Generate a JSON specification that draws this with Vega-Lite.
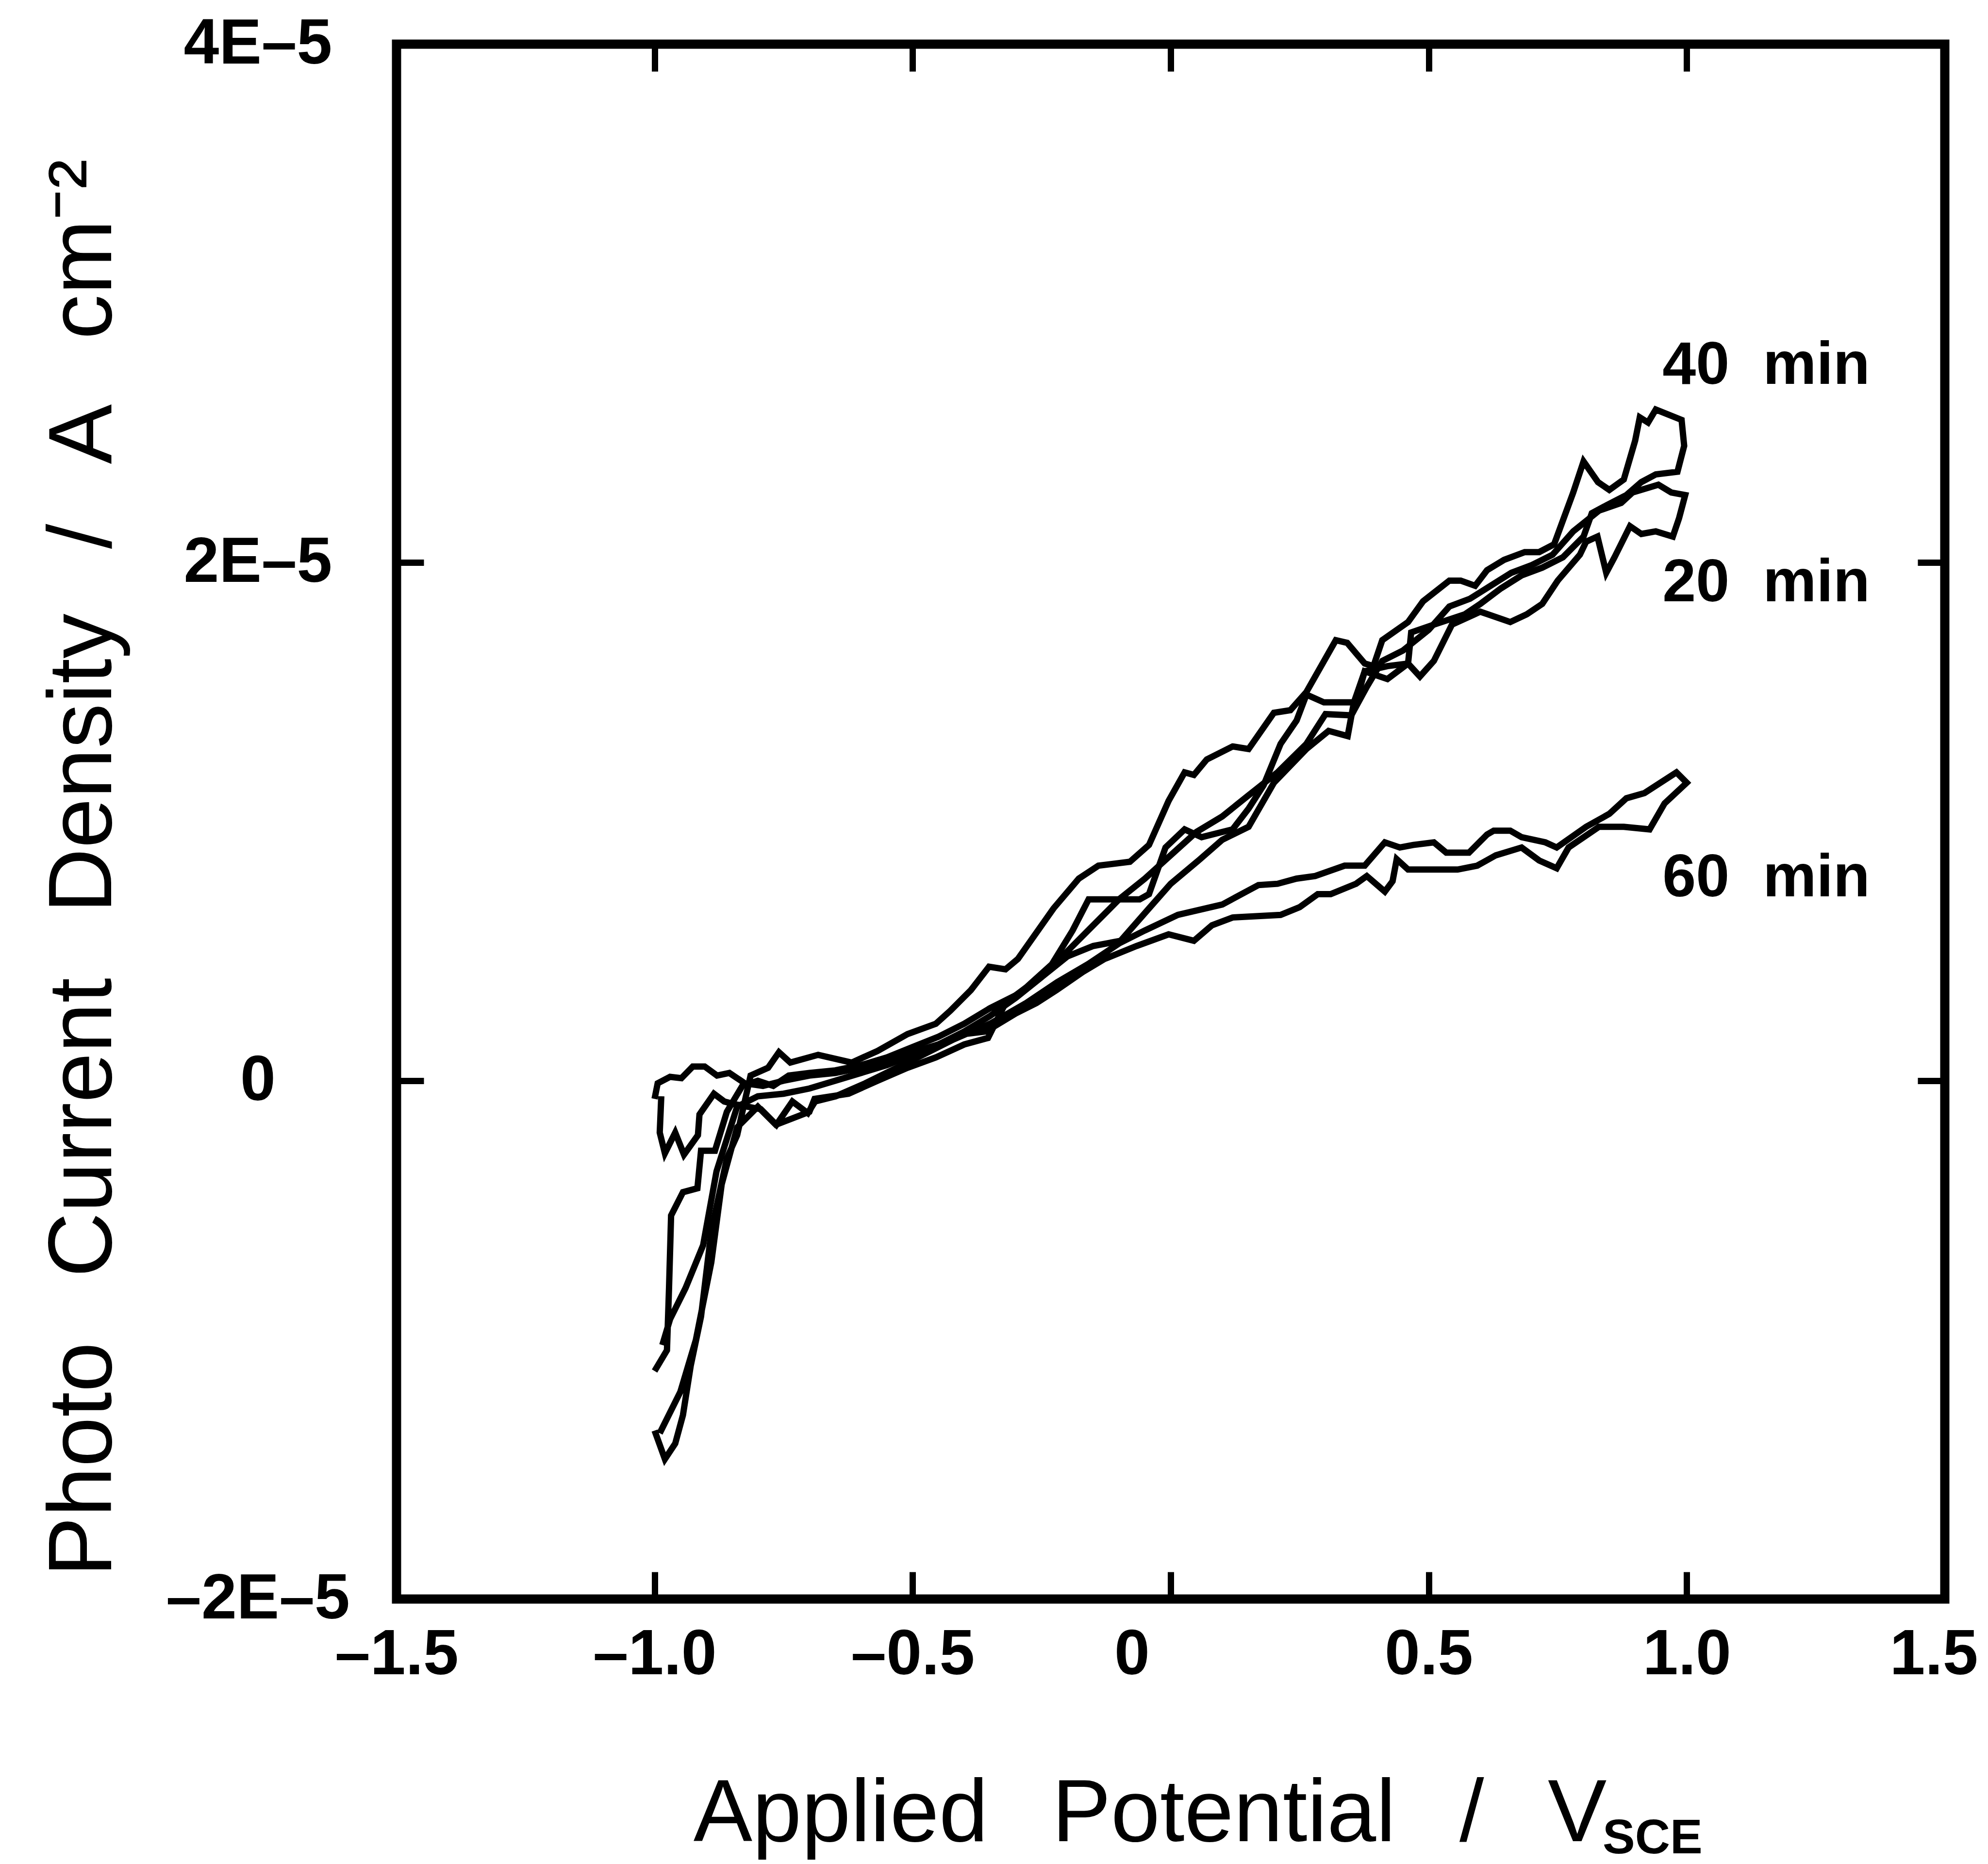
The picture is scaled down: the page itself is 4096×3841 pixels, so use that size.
{
  "$schema": "https://vega.github.io/schema/vega-lite/v6.json",
  "width": 3190,
  "height": 3204,
  "autosize": {"type": "none"},
  "padding": {"left": 817, "top": 91, "right": 89, "bottom": 546},
  "background": "white",
  "config": {
    "view": {"stroke": "black", "strokeWidth": 19},
    "axis": {"grid": false, "domain": false, "tickColor": "black", "tickWidth": 13, "labelColor": "black", "titleColor": "black", "labelFlush": false, "labelOverlap": false, "labelLimit": 0, "titleLimit": 0}
  },
  "resolve": {"axis": {"x": "independent", "y": "independent"}},
  "layer": [
    {
      "data": {"values": [
        {"t":60,"k":1,"E":-1.0,"J":-0.07},{"t":60,"k":2,"E":-0.994,"J":-0.01},{"t":60,"k":3,"E":-0.97,"J":0.015},{"t":60,"k":4,"E":-0.948,"J":0.01},{"t":60,"k":5,"E":-0.926,"J":0.055},{"t":60,"k":6,"E":-0.903,"J":0.055},{"t":60,"k":7,"E":-0.879,"J":0.02},{"t":60,"k":8,"E":-0.855,"J":0.03},{"t":60,"k":9,"E":-0.825,"J":-0.01},{"t":60,"k":10,"E":-0.79,"J":-0.02},
        {"t":60,"k":11,"E":-0.75,"J":0.0},{"t":60,"k":12,"E":-0.70,"J":0.02},{"t":60,"k":13,"E":-0.65,"J":0.03},{"t":60,"k":14,"E":-0.60,"J":0.05},{"t":60,"k":15,"E":-0.55,"J":0.08},{"t":60,"k":16,"E":-0.50,"J":0.11},{"t":60,"k":17,"E":-0.45,"J":0.14},{"t":60,"k":18,"E":-0.40,"J":0.18},{"t":60,"k":19,"E":-0.358,"J":0.19},{"t":60,"k":20,"E":-0.30,"J":0.26},
        {"t":60,"k":21,"E":-0.26,"J":0.30},{"t":60,"k":22,"E":-0.221,"J":0.35},{"t":60,"k":23,"E":-0.17,"J":0.42},{"t":60,"k":24,"E":-0.128,"J":0.47},{"t":60,"k":25,"E":-0.066,"J":0.52},{"t":60,"k":26,"E":-0.004,"J":0.565},{"t":60,"k":27,"E":0.045,"J":0.54},{"t":60,"k":28,"E":0.08,"J":0.60},{"t":60,"k":29,"E":0.12,"J":0.63},{"t":60,"k":30,"E":0.213,"J":0.64},
        {"t":60,"k":31,"E":0.25,"J":0.67},{"t":60,"k":32,"E":0.285,"J":0.72},{"t":60,"k":33,"E":0.31,"J":0.72},{"t":60,"k":34,"E":0.359,"J":0.76},{"t":60,"k":35,"E":0.38,"J":0.79},{"t":60,"k":36,"E":0.415,"J":0.73},{"t":60,"k":37,"E":0.43,"J":0.77},{"t":60,"k":38,"E":0.438,"J":0.855},{"t":60,"k":39,"E":0.46,"J":0.815},{"t":60,"k":40,"E":0.556,"J":0.815},
        {"t":60,"k":41,"E":0.594,"J":0.83},{"t":60,"k":42,"E":0.63,"J":0.87},{"t":60,"k":43,"E":0.68,"J":0.90},{"t":60,"k":44,"E":0.714,"J":0.85},{"t":60,"k":45,"E":0.748,"J":0.82},{"t":60,"k":46,"E":0.771,"J":0.90},{"t":60,"k":47,"E":0.83,"J":0.98},{"t":60,"k":48,"E":0.878,"J":0.98},{"t":60,"k":49,"E":0.928,"J":0.97},{"t":60,"k":50,"E":0.957,"J":1.07},
        {"t":60,"k":51,"E":1.0,"J":1.15},{"t":60,"k":52,"E":0.98,"J":1.19},{"t":60,"k":53,"E":0.918,"J":1.11},{"t":60,"k":54,"E":0.883,"J":1.09},{"t":60,"k":55,"E":0.85,"J":1.03},{"t":60,"k":56,"E":0.805,"J":0.98},{"t":60,"k":57,"E":0.748,"J":0.90},{"t":60,"k":58,"E":0.726,"J":0.92},{"t":60,"k":59,"E":0.68,"J":0.94},{"t":60,"k":60,"E":0.658,"J":0.965},
        {"t":60,"k":61,"E":0.626,"J":0.965},{"t":60,"k":62,"E":0.613,"J":0.95},{"t":60,"k":63,"E":0.578,"J":0.88},{"t":60,"k":64,"E":0.534,"J":0.88},{"t":60,"k":65,"E":0.51,"J":0.92},{"t":60,"k":66,"E":0.47,"J":0.91},{"t":60,"k":67,"E":0.444,"J":0.90},{"t":60,"k":68,"E":0.415,"J":0.92},{"t":60,"k":69,"E":0.376,"J":0.83},{"t":60,"k":70,"E":0.337,"J":0.83},
        {"t":60,"k":71,"E":0.28,"J":0.79},{"t":60,"k":72,"E":0.244,"J":0.78},{"t":60,"k":73,"E":0.207,"J":0.76},{"t":60,"k":74,"E":0.17,"J":0.755},{"t":60,"k":75,"E":0.10,"J":0.68},{"t":60,"k":76,"E":0.014,"J":0.64},{"t":60,"k":77,"E":-0.05,"J":0.58},{"t":60,"k":78,"E":-0.10,"J":0.53},{"t":60,"k":79,"E":-0.16,"J":0.45},{"t":60,"k":80,"E":-0.22,"J":0.38},
        {"t":60,"k":81,"E":-0.28,"J":0.30},{"t":60,"k":82,"E":-0.35,"J":0.22},{"t":60,"k":83,"E":-0.42,"J":0.16},{"t":60,"k":84,"E":-0.50,"J":0.08},{"t":60,"k":85,"E":-0.592,"J":-0.01},{"t":60,"k":86,"E":-0.649,"J":-0.06},{"t":60,"k":87,"E":-0.689,"J":-0.08},{"t":60,"k":88,"E":-0.703,"J":-0.125},{"t":60,"k":89,"E":-0.733,"J":-0.08},{"t":60,"k":90,"E":-0.764,"J":-0.17},
        {"t":60,"k":91,"E":-0.794,"J":-0.11},{"t":60,"k":92,"E":-0.846,"J":-0.09},{"t":60,"k":93,"E":-0.865,"J":-0.08},{"t":60,"k":94,"E":-0.885,"J":-0.05},{"t":60,"k":95,"E":-0.913,"J":-0.13},{"t":60,"k":96,"E":-0.916,"J":-0.21},{"t":60,"k":97,"E":-0.943,"J":-0.285},{"t":60,"k":98,"E":-0.96,"J":-0.20},{"t":60,"k":99,"E":-0.98,"J":-0.28},{"t":60,"k":100,"E":-0.99,"J":-0.20},
        {"t":60,"k":101,"E":-0.987,"J":-0.06},

        {"t":40,"k":1,"E":-1.0,"J":-1.35},{"t":40,"k":2,"E":-0.98,"J":-1.46},{"t":40,"k":3,"E":-0.96,"J":-1.40},{"t":40,"k":4,"E":-0.945,"J":-1.29},{"t":40,"k":5,"E":-0.93,"J":-1.10},{"t":40,"k":6,"E":-0.91,"J":-0.91},{"t":40,"k":7,"E":-0.89,"J":-0.58},{"t":40,"k":8,"E":-0.86,"J":-0.30},{"t":40,"k":9,"E":-0.84,"J":-0.21},{"t":40,"k":10,"E":-0.814,"J":0.02},
        {"t":40,"k":11,"E":-0.78,"J":0.05},{"t":40,"k":12,"E":-0.759,"J":0.11},{"t":40,"k":13,"E":-0.737,"J":0.07},{"t":40,"k":14,"E":-0.683,"J":0.10},{"t":40,"k":15,"E":-0.618,"J":0.07},{"t":40,"k":16,"E":-0.568,"J":0.115},{"t":40,"k":17,"E":-0.51,"J":0.18},{"t":40,"k":18,"E":-0.455,"J":0.22},{"t":40,"k":19,"E":-0.427,"J":0.27},{"t":40,"k":20,"E":-0.387,"J":0.35},
        {"t":40,"k":21,"E":-0.352,"J":0.44},{"t":40,"k":22,"E":-0.32,"J":0.43},{"t":40,"k":23,"E":-0.296,"J":0.47},{"t":40,"k":24,"E":-0.227,"J":0.665},{"t":40,"k":25,"E":-0.178,"J":0.78},{"t":40,"k":26,"E":-0.14,"J":0.83},{"t":40,"k":27,"E":-0.079,"J":0.845},{"t":40,"k":28,"E":-0.042,"J":0.91},{"t":40,"k":29,"E":-0.004,"J":1.08},{"t":40,"k":30,"E":0.027,"J":1.19},
        {"t":40,"k":31,"E":0.045,"J":1.18},{"t":40,"k":32,"E":0.07,"J":1.24},{"t":40,"k":33,"E":0.12,"J":1.29},{"t":40,"k":34,"E":0.151,"J":1.28},{"t":40,"k":35,"E":0.20,"J":1.42},{"t":40,"k":36,"E":0.232,"J":1.43},{"t":40,"k":37,"E":0.263,"J":1.50},{"t":40,"k":38,"E":0.32,"J":1.70},{"t":40,"k":39,"E":0.342,"J":1.69},{"t":40,"k":40,"E":0.376,"J":1.61},
        {"t":40,"k":41,"E":0.393,"J":1.60},{"t":40,"k":42,"E":0.41,"J":1.70},{"t":40,"k":43,"E":0.46,"J":1.77},{"t":40,"k":44,"E":0.489,"J":1.85},{"t":40,"k":45,"E":0.54,"J":1.93},{"t":40,"k":46,"E":0.562,"J":1.93},{"t":40,"k":47,"E":0.59,"J":1.91},{"t":40,"k":48,"E":0.613,"J":1.97},{"t":40,"k":49,"E":0.646,"J":2.01},{"t":40,"k":50,"E":0.686,"J":2.04},
        {"t":40,"k":51,"E":0.714,"J":2.04},{"t":40,"k":52,"E":0.743,"J":2.07},{"t":40,"k":53,"E":0.78,"J":2.27},{"t":40,"k":54,"E":0.80,"J":2.39},{"t":40,"k":55,"E":0.828,"J":2.31},{"t":40,"k":56,"E":0.85,"J":2.28},{"t":40,"k":57,"E":0.878,"J":2.32},{"t":40,"k":58,"E":0.90,"J":2.47},{"t":40,"k":59,"E":0.909,"J":2.56},{"t":40,"k":60,"E":0.925,"J":2.54},
        {"t":40,"k":61,"E":0.94,"J":2.59},{"t":40,"k":62,"E":0.99,"J":2.55},{"t":40,"k":63,"E":0.995,"J":2.45},{"t":40,"k":64,"E":0.982,"J":2.35},{"t":40,"k":65,"E":0.94,"J":2.34},{"t":40,"k":66,"E":0.912,"J":2.31},{"t":40,"k":67,"E":0.883,"J":2.26},{"t":40,"k":68,"E":0.844,"J":2.22},{"t":40,"k":69,"E":0.816,"J":2.19},{"t":40,"k":70,"E":0.80,"J":2.10},
        {"t":40,"k":71,"E":0.76,"J":2.02},{"t":40,"k":72,"E":0.72,"J":1.98},{"t":40,"k":73,"E":0.68,"J":1.95},{"t":40,"k":74,"E":0.64,"J":1.90},{"t":40,"k":75,"E":0.60,"J":1.84},{"t":40,"k":76,"E":0.57,"J":1.80},{"t":40,"k":77,"E":0.51,"J":1.76},{"t":40,"k":78,"E":0.466,"J":1.73},{"t":40,"k":79,"E":0.46,"J":1.61},{"t":40,"k":80,"E":0.42,"J":1.55},
        {"t":40,"k":81,"E":0.376,"J":1.58},{"t":40,"k":82,"E":0.359,"J":1.46},{"t":40,"k":83,"E":0.32,"J":1.46},{"t":40,"k":84,"E":0.297,"J":1.46},{"t":40,"k":85,"E":0.263,"J":1.49},{"t":40,"k":86,"E":0.244,"J":1.39},{"t":40,"k":87,"E":0.213,"J":1.30},{"t":40,"k":88,"E":0.18,"J":1.14},{"t":40,"k":89,"E":0.151,"J":1.05},{"t":40,"k":90,"E":0.12,"J":0.97},
        {"t":40,"k":91,"E":0.06,"J":0.94},{"t":40,"k":92,"E":0.027,"J":0.97},{"t":40,"k":93,"E":-0.01,"J":0.90},{"t":40,"k":94,"E":-0.042,"J":0.72},{"t":40,"k":95,"E":-0.06,"J":0.70},{"t":40,"k":96,"E":-0.128,"J":0.70},{"t":40,"k":97,"E":-0.159,"J":0.70},{"t":40,"k":98,"E":-0.19,"J":0.58},{"t":40,"k":99,"E":-0.23,"J":0.45},{"t":40,"k":100,"E":-0.28,"J":0.36},
        {"t":40,"k":101,"E":-0.32,"J":0.30},{"t":40,"k":102,"E":-0.354,"J":0.165},{"t":40,"k":103,"E":-0.40,"J":0.14},{"t":40,"k":104,"E":-0.455,"J":0.09},{"t":40,"k":105,"E":-0.51,"J":0.05},{"t":40,"k":106,"E":-0.568,"J":0.0},{"t":40,"k":107,"E":-0.624,"J":-0.05},{"t":40,"k":108,"E":-0.69,"J":-0.07},{"t":40,"k":109,"E":-0.70,"J":-0.12},{"t":40,"k":110,"E":-0.765,"J":-0.17},
        {"t":40,"k":111,"E":-0.80,"J":-0.10},{"t":40,"k":112,"E":-0.84,"J":-0.18},{"t":40,"k":113,"E":-0.87,"J":-0.40},{"t":40,"k":114,"E":-0.89,"J":-0.70},{"t":40,"k":115,"E":-0.92,"J":-1.0},{"t":40,"k":116,"E":-0.95,"J":-1.2},{"t":40,"k":117,"E":-0.99,"J":-1.36},

        {"t":20,"k":1,"E":-1.0,"J":-1.12},{"t":20,"k":2,"E":-0.976,"J":-1.04},{"t":20,"k":3,"E":-0.972,"J":-0.80},{"t":20,"k":4,"E":-0.968,"J":-0.52},{"t":20,"k":5,"E":-0.945,"J":-0.43},{"t":20,"k":6,"E":-0.917,"J":-0.415},{"t":20,"k":7,"E":-0.91,"J":-0.27},{"t":20,"k":8,"E":-0.883,"J":-0.27},{"t":20,"k":9,"E":-0.86,"J":-0.12},{"t":20,"k":10,"E":-0.83,"J":-0.02},
        {"t":20,"k":11,"E":-0.80,"J":0.0},{"t":20,"k":12,"E":-0.77,"J":-0.02},{"t":20,"k":13,"E":-0.74,"J":0.02},{"t":20,"k":14,"E":-0.70,"J":0.03},{"t":20,"k":15,"E":-0.65,"J":0.04},{"t":20,"k":16,"E":-0.60,"J":0.06},{"t":20,"k":17,"E":-0.55,"J":0.09},{"t":20,"k":18,"E":-0.50,"J":0.13},{"t":20,"k":19,"E":-0.45,"J":0.17},{"t":20,"k":20,"E":-0.40,"J":0.22},
        {"t":20,"k":21,"E":-0.35,"J":0.28},{"t":20,"k":22,"E":-0.30,"J":0.33},{"t":20,"k":23,"E":-0.25,"J":0.40},{"t":20,"k":24,"E":-0.20,"J":0.48},{"t":20,"k":25,"E":-0.15,"J":0.52},{"t":20,"k":26,"E":-0.097,"J":0.54},{"t":20,"k":27,"E":-0.042,"J":0.665},{"t":20,"k":28,"E":0.0,"J":0.76},{"t":20,"k":29,"E":0.057,"J":0.855},{"t":20,"k":30,"E":0.10,"J":0.93},
        {"t":20,"k":31,"E":0.151,"J":0.98},{"t":20,"k":32,"E":0.20,"J":1.15},{"t":20,"k":33,"E":0.263,"J":1.28},{"t":20,"k":34,"E":0.306,"J":1.35},{"t":20,"k":35,"E":0.343,"J":1.33},{"t":20,"k":36,"E":0.355,"J":1.46},{"t":20,"k":37,"E":0.376,"J":1.58},{"t":20,"k":38,"E":0.42,"J":1.60},{"t":20,"k":39,"E":0.46,"J":1.61},{"t":20,"k":40,"E":0.483,"J":1.56},
        {"t":20,"k":41,"E":0.51,"J":1.62},{"t":20,"k":42,"E":0.545,"J":1.76},{"t":20,"k":43,"E":0.60,"J":1.81},{"t":20,"k":44,"E":0.658,"J":1.77},{"t":20,"k":45,"E":0.69,"J":1.80},{"t":20,"k":46,"E":0.72,"J":1.84},{"t":20,"k":47,"E":0.75,"J":1.93},{"t":20,"k":48,"E":0.793,"J":2.03},{"t":20,"k":49,"E":0.805,"J":2.08},{"t":20,"k":50,"E":0.827,"J":2.10},
        {"t":20,"k":51,"E":0.844,"J":1.96},{"t":20,"k":52,"E":0.86,"J":2.02},{"t":20,"k":53,"E":0.89,"J":2.14},{"t":20,"k":54,"E":0.912,"J":2.11},{"t":20,"k":55,"E":0.94,"J":2.12},{"t":20,"k":56,"E":0.973,"J":2.10},{"t":20,"k":57,"E":0.985,"J":2.17},{"t":20,"k":58,"E":0.997,"J":2.26},{"t":20,"k":59,"E":0.97,"J":2.27},{"t":20,"k":60,"E":0.945,"J":2.30},
        {"t":20,"k":61,"E":0.895,"J":2.27},{"t":20,"k":62,"E":0.873,"J":2.23},{"t":20,"k":63,"E":0.83,"J":2.20},{"t":20,"k":64,"E":0.78,"J":2.12},{"t":20,"k":65,"E":0.74,"J":2.03},{"t":20,"k":66,"E":0.70,"J":1.99},{"t":20,"k":67,"E":0.66,"J":1.96},{"t":20,"k":68,"E":0.62,"J":1.91},{"t":20,"k":69,"E":0.58,"J":1.86},{"t":20,"k":70,"E":0.54,"J":1.83},
        {"t":20,"k":71,"E":0.50,"J":1.74},{"t":20,"k":72,"E":0.45,"J":1.66},{"t":20,"k":73,"E":0.41,"J":1.62},{"t":20,"k":74,"E":0.38,"J":1.52},{"t":20,"k":75,"E":0.35,"J":1.41},{"t":20,"k":76,"E":0.30,"J":1.415},{"t":20,"k":77,"E":0.263,"J":1.30},{"t":20,"k":78,"E":0.207,"J":1.19},{"t":20,"k":79,"E":0.15,"J":1.10},{"t":20,"k":80,"E":0.10,"J":1.02},
        {"t":20,"k":81,"E":0.05,"J":0.96},{"t":20,"k":82,"E":0.0,"J":0.87},{"t":20,"k":83,"E":-0.05,"J":0.78},{"t":20,"k":84,"E":-0.10,"J":0.70},{"t":20,"k":85,"E":-0.15,"J":0.60},{"t":20,"k":86,"E":-0.20,"J":0.50},{"t":20,"k":87,"E":-0.25,"J":0.40},{"t":20,"k":88,"E":-0.30,"J":0.32},{"t":20,"k":89,"E":-0.35,"J":0.25},{"t":20,"k":90,"E":-0.40,"J":0.19},
        {"t":20,"k":91,"E":-0.45,"J":0.14},{"t":20,"k":92,"E":-0.50,"J":0.10},{"t":20,"k":93,"E":-0.55,"J":0.06},{"t":20,"k":94,"E":-0.60,"J":0.03},{"t":20,"k":95,"E":-0.65,"J":0.0},{"t":20,"k":96,"E":-0.70,"J":-0.03},{"t":20,"k":97,"E":-0.75,"J":-0.05},{"t":20,"k":98,"E":-0.80,"J":-0.06},{"t":20,"k":99,"E":-0.84,"J":-0.10},{"t":20,"k":100,"E":-0.88,"J":-0.35},
        {"t":20,"k":101,"E":-0.906,"J":-0.635},{"t":20,"k":102,"E":-0.94,"J":-0.80},{"t":20,"k":103,"E":-0.97,"J":-0.92},{"t":20,"k":104,"E":-0.985,"J":-1.02}
      ]},
      "mark": {"type": "line", "color": "black", "strokeWidth": 13, "clip": true},
      "encoding": {
        "x": {"field": "E", "type": "quantitative",
          "scale": {"domain": [-1.5, 1.5], "nice": false, "zero": false},
          "axis": {"orient": "bottom", "values": [-1.5, -1, -0.5, 0, 0.5, 1, 1.5],
            "labelExpr": "datum.value == 0 ? '0' : (datum.value < 0 ? '–' : '') + format(abs(datum.value), '.1f')",
            "labelFont": "Liberation Sans", "labelFontWeight": "bold", "labelFontSize": 131,
            "labelAlign": "center", "labelBaseline": "top", "labelPadding": 107, "tickSize": -56,
            "labelOffset": {"condition": [{"test": "datum.value == 1.5", "value": -23}, {"test": "datum.value == 0", "value": -80}], "value": 0},
            "title": "Applied\u00a0\u2006 Potential\u00a0\u2006 /\u00a0\u2006 V", "titleFont": "Liberation Sans", "titleFontWeight": "normal", "titleFontSize": 182,
            "titleX": 2493, "titleY": 498, "titleAlign": "right", "titleBaseline": "alphabetic", "titleAngle": 0}},
        "y": {"field": "J", "type": "quantitative",
          "scale": {"domain": [-2, 4], "nice": false, "zero": false},
          "axis": {"orient": "left", "values": [-2, 0, 2, 4],
            "labelExpr": "datum.value == 0 ? '0' : (datum.value < 0 ? '–' : '') + format(abs(datum.value), 'd') + 'E–5'",
            "labelFont": "Liberation Sans", "labelFontWeight": "bold", "labelFontSize": 131,
            "labelAlign": "center", "labelBaseline": "middle", "labelPadding": 342, "tickSize": -56,
            "title": "Photo\u00a0\u2006 Current\u00a0\u2006 Density\u00a0\u2006 /\u00a0\u2006 A\u00a0\u2006 cm⁻²", "titleFont": "Liberation Sans", "titleFontWeight": "normal", "titleFontSize": 185,
            "titleX": -589, "titleY": 1697, "titleAlign": "center", "titleBaseline": "alphabetic", "titleAngle": 270}},
        "detail": {"field": "t", "type": "nominal"},
        "order": {"field": "k", "type": "quantitative"}
      }
    },
    {
      "data": {"values": [
        {"label": "40\u00a0 min", "E": 0.953, "J": 2.689},
        {"label": "20\u00a0 min", "E": 0.953, "J": 1.85},
        {"label": "60\u00a0 min", "E": 0.953, "J": 0.712}
      ]},
      "mark": {"type": "text", "align": "left", "baseline": "alphabetic", "font": "Liberation Sans", "fontWeight": "bold", "fontSize": 124, "color": "black"},
      "encoding": {
        "x": {"field": "E", "type": "quantitative",
          "axis": {"orient": "top", "values": [-1, -0.5, 0, 0.5, 1], "labels": false, "tickSize": -56, "title": null}},
        "y": {"field": "J", "type": "quantitative",
          "axis": {"orient": "right", "values": [0, 2], "labels": false, "tickSize": -56, "title": null}},
        "text": {"field": "label"}
      }
    },
    {
      "data": {"values": [{"label": "SCE", "E": 0.837, "J": -2.981}]},
      "mark": {"type": "text", "align": "left", "baseline": "alphabetic", "font": "Liberation Sans", "fontWeight": "bold", "fontSize": 100, "color": "black"},
      "encoding": {
        "x": {"field": "E", "type": "quantitative", "axis": null},
        "y": {"field": "J", "type": "quantitative", "axis": null},
        "text": {"field": "label"}
      }
    }
  ]
}
